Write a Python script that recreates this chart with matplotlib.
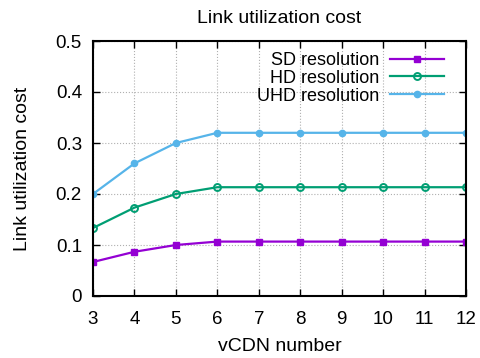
import matplotlib
matplotlib.use("Agg")
import matplotlib.pyplot as plt

plt.rcParams['font.family'] = ['Liberation Sans', 'DejaVu Sans']

vcdn = [3, 4, 5, 6, 7, 8, 9, 10, 11, 12]
sd = [0.0667, 0.0867, 0.1, 0.1067, 0.1067, 0.1067, 0.1067, 0.1067, 0.1067, 0.1067]
hd = [0.1333, 0.1733, 0.2, 0.2133, 0.2133, 0.2133, 0.2133, 0.2133, 0.2133, 0.2133]
uhd = [0.2, 0.26, 0.3, 0.32, 0.32, 0.32, 0.32, 0.32, 0.32, 0.32]

fig = plt.figure(figsize=(4.8, 3.58), dpi=100)
ax = fig.add_axes([93/480, 1 - 296/358, (466-93)/480, (296-41)/358])

ax.plot(vcdn, sd, color='#9400D3', lw=1.6, marker='s', ms=4.5, label='SD resolution')
ax.plot(vcdn, hd, color='#009E73', lw=1.6, marker='o', ms=5, mfc='none', mew=1.4, label='HD resolution')
ax.plot(vcdn, uhd, color='#56B4E9', lw=1.6, marker='o', ms=4.5, label='UHD resolution')

ax.set_xlim(3, 12)
ax.set_ylim(0, 0.5)
ax.set_xticks(vcdn)
ax.set_yticks([0, 0.1, 0.2, 0.3, 0.4, 0.5])
ax.set_yticklabels(['0', '0.1', '0.2', '0.3', '0.4', '0.5'])
ax.tick_params(direction='in', top=True, right=True, labelsize=13.5, length=5, width=1, pad=8)
ax.tick_params(axis='x', pad=11)
ax.grid(True, color='#b0b0b0', linestyle=':', linewidth=0.8)
for s in ax.spines.values():
    s.set_linewidth(1.5)

ax.set_title('Link utilization cost', fontsize=14, pad=13)
ax.set_xlabel('vCDN number', fontsize=14, labelpad=7)
ax.set_ylabel('Link utilization cost', fontsize=14, labelpad=18)

leg = ax.legend(loc='upper right', frameon=False, markerfirst=False, fontsize=13,
                handlelength=3, borderaxespad=0.2, labelspacing=0.05, handletextpad=0.6,
                bbox_to_anchor=(0.97, 1.0))
for t in leg.get_texts():
    t.set_ha('right')

fig.savefig('out.png', dpi=100)
